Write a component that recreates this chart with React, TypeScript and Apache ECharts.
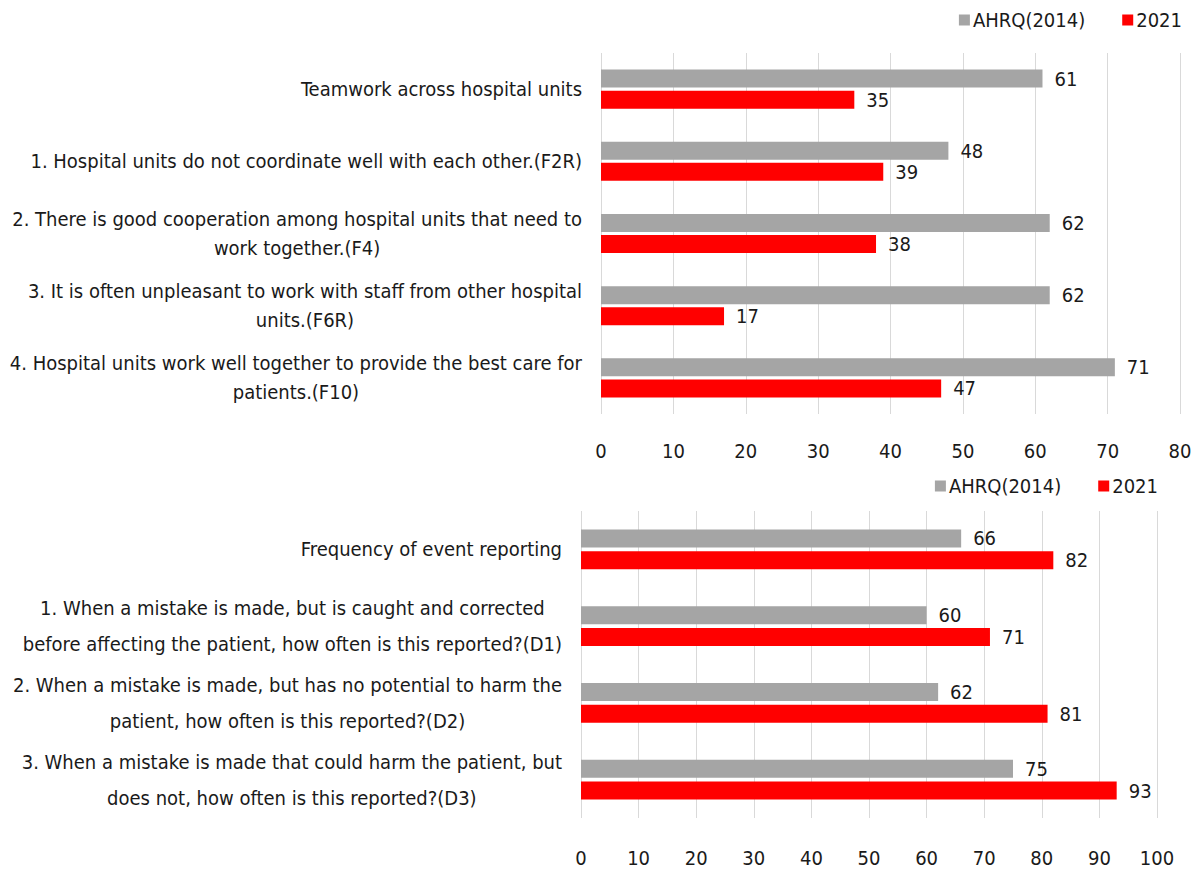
import React, { useEffect, useRef } from "react";
import * as echarts from "echarts";

const topCategories = [
  "Teamwork across hospital units",
  "1. Hospital units do not coordinate well with each other.(F2R)",
  "2. There is good cooperation among hospital units that need to\nwork together.(F4)",
  "3. It is often unpleasant to work with staff from other hospital\nunits.(F6R)",
  "4. Hospital units work well together to provide the best care for\npatients.(F10)",
];
const topAhrq = [61, 48, 62, 62, 71];
const top2021 = [35, 39, 38, 17, 47];

const bottomCategories = [
  "Frequency of event reporting",
  "1. When a mistake is made, but is caught and corrected\nbefore affecting the patient, how often is this reported?(D1)",
  "2. When a mistake is made, but has no potential to harm the\npatient, how often is this reported?(D2)",
  "3. When a mistake is made that could harm the patient, but\ndoes not, how often is this reported?(D3)",
];
const bottomAhrq = [66, 60, 62, 75];
const bottom2021 = [82, 71, 81, 93];

const seriesNames = ["AHRQ(2014)", "2021"];
const GRAY = "#a5a5a5";
const RED = "#ff0000";
const FONT = "'Liberation Sans Narrow', 'DejaVu Sans Condensed', 'Open Sans', sans-serif";
const TEXT = "#1a1a1a";

function richLabel(v: string) {
  return v
    .split("\n")
    .map((l) => `{c|${l}}`)
    .join("\n");
}

export default function App() {
  const ref = useRef<HTMLDivElement>(null);
  useEffect(() => {
    if (!ref.current) return;
    const chart = echarts.init(ref.current, null, { renderer: "svg" });
    const valueLabel = {
      show: true,
      position: "right" as const,
      distance: 12,
      fontSize: 20,
      fontFamily: FONT,
      color: TEXT,
    };
    const yAxisBase = (cats: string[], lh: number) => ({
      type: "category" as const,
      data: cats,
      inverse: true,
      axisLine: { show: false },
      axisTick: { show: false },
      splitLine: { show: false },
      axisLabel: {
        margin: 19,
        formatter: richLabel,
        rich: {
          c: {
            align: "center",
            fontSize: 20,
            fontFamily: FONT,
            color: TEXT,
            lineHeight: lh,
          },
        },
      },
    });
    const xAxisBase = (max: number, margin: number) => ({
      type: "value" as const,
      min: 0,
      max,
      interval: 10,
      axisLine: { show: false },
      axisTick: { show: false },
      splitLine: { show: true, lineStyle: { color: "#d9d9d9", width: 1 } },
      axisLabel: { fontSize: 20, fontFamily: FONT, color: TEXT, margin },
    });
    const legendBase = {
      icon: "rect",
      itemWidth: 11,
      itemHeight: 11,
      itemGap: 37,
      textStyle: { fontSize: 20, fontFamily: FONT, color: TEXT, padding: [0, 0, 0, -2] },
      data: seriesNames,
    };
    chart.setOption({
      animation: false,
      backgroundColor: "#ffffff",
      legend: [
        { ...legendBase, right: 16, top: 5 },
        { ...legendBase, right: 40, top: 471 },
      ],
      grid: [
        { left: 601, right: 23, top: 53, height: 361 },
        { left: 581, right: 46, top: 511, height: 307 },
      ],
      xAxis: [
        { ...xAxisBase(80, 27), gridIndex: 0 },
        { ...xAxisBase(100, 30), gridIndex: 1 },
      ],
      yAxis: [
        { ...yAxisBase(topCategories, 29), gridIndex: 0 },
        { ...yAxisBase(bottomCategories, 36), gridIndex: 1 },
      ],
      series: [
        {
          name: seriesNames[0],
          type: "bar",
          xAxisIndex: 0,
          yAxisIndex: 0,
          data: topAhrq,
          barWidth: 18,
          barGap: "17%",
          itemStyle: { color: GRAY },
          label: valueLabel,
        },
        {
          name: seriesNames[1],
          type: "bar",
          xAxisIndex: 0,
          yAxisIndex: 0,
          data: top2021,
          barWidth: 18,
          barGap: "17%",
          itemStyle: { color: RED },
          label: valueLabel,
        },
        {
          name: seriesNames[0],
          type: "bar",
          xAxisIndex: 1,
          yAxisIndex: 1,
          data: bottomAhrq,
          barWidth: 18,
          barGap: "22%",
          itemStyle: { color: GRAY },
          label: valueLabel,
        },
        {
          name: seriesNames[1],
          type: "bar",
          xAxisIndex: 1,
          yAxisIndex: 1,
          data: bottom2021,
          barWidth: 18,
          barGap: "22%",
          itemStyle: { color: RED },
          label: valueLabel,
        },
      ],
    });
    return () => chart.dispose();
  }, []);
  return (
    <div
      ref={ref}
      style={{ position: "fixed", left: 0, top: 0, width: 1203, height: 872, background: "#fff" }}
    />
  );
}
